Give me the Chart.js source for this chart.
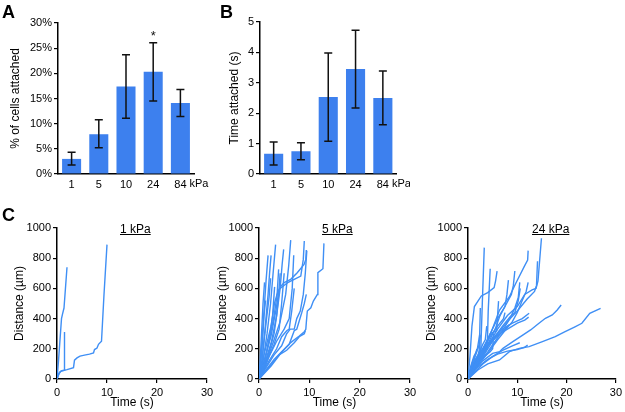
<!DOCTYPE html>
<html>
<head>
<meta charset="UTF-8">
<title>Cell attachment on substrates of different stiffness</title>
<style>
  body { margin:0; background:#fff; font-family:'Liberation Sans', Arial, sans-serif; }
  #fig { position:relative; width:625px; height:412px; overflow:hidden; }
  canvas { position:absolute; }
  .panel { position:absolute; font-weight:bold; font-size:18px; line-height:1; }
  .sub { position:absolute; font-size:12px; line-height:1; text-decoration:underline; }
</style>
</head>
<body>
<div id="fig">
  <canvas id="chartA" width="210" height="200" style="left:0;top:0"></canvas>
  <canvas id="chartB" width="200" height="200" style="left:210px;top:0"></canvas>
  <canvas id="chartC1" width="225" height="212" style="left:0;top:200px"></canvas>
  <canvas id="chartC2" width="225" height="212" style="left:210px;top:200px"></canvas>
  <canvas id="chartC3" width="215" height="212" style="left:410px;top:200px"></canvas>
  <div class="panel" style="left:2px;top:2.6px">A</div>
  <div class="panel" style="left:220px;top:2.6px">B</div>
  <div class="panel" style="left:2px;top:205.6px">C</div>
  <div class="sub" style="left:120px;top:223px">1 kPa</div>
  <div class="sub" style="left:322px;top:223px">5 kPa</div>
  <div class="sub" style="left:532px;top:223px">24 kPa</div>
</div>

<script src="https://cdn.jsdelivr.net/npm/chart.js"></script>
<script>
// --- data ---
const stiffness = ['1', '5', '10', '24', '84'];

// A: % of cells attached (mean, error bar low / high)
const attachedPct  = [3.0, 7.9, 17.4, 20.3, 14.1];
const attachedLow  = [1.8, 5.2, 11.1, 14.5, 11.4];
const attachedHigh = [4.3, 10.8, 23.7, 26.1, 16.8];
const attachedSig  = ['', '', '', '*', ''];

// B: time attached (s)
const timeAttached = [0.67, 0.75, 2.53, 3.45, 2.50];
const timeLow      = [0.30, 0.47, 1.08, 2.17, 1.62];
const timeHigh     = [1.05, 1.03, 3.98, 4.73, 3.39];

// C: tracks, [time (s), distance (um)]
const tracks1kPa = [
  [[0,0],[0.3,120],[0.6,260],[0.9,400],[1.1,430],[1.4,470],[1.6,560],[2.0,740]],
  [[0,0],[0.5,45],[1.0,55],[1.4,58],[1.5,311]],
  [[0,0],[0.4,35],[0.8,52],[2.0,62],[3.3,75],[3.5,125],[4.0,140],[4.6,152],[5.5,158],[6.5,165],[7.3,172],[7.5,195],[8.0,205],[8.3,230],[8.9,250],[9.4,560],[10.0,890]]
];

const tracks5kPa = [
  [[0,0],[0.4,150],[1.0,450],[1.4,650],[1.8,819]],
  [[0,0],[0.6,120],[1.2,330],[1.8,560],[2.1,700],[2.4,819]],
  [[0,0],[0.8,120],[1.6,300],[2.3,500],[2.8,700],[3.3,890]],
  [[0,0],[1.0,100],[2.0,250],[3.0,420],[3.6,560],[3.9,726]],
  [[0,0],[1.2,110],[2.5,250],[3.5,420],[4.2,600],[4.6,760],[4.9,858]],
  [[0,0],[1.5,120],[3.0,260],[4.2,380],[5.3,560],[5.9,750],[6.3,920]],
  [[0,0],[2.0,150],[3.5,250],[5.0,330],[6.0,400],[6.6,600],[6.9,819]],
  [[0,0],[1.1,174],[2.4,351],[3.1,505],[3.7,572],[4.4,616],[5.0,638],[6.3,660],[7.6,704],[8.95,759],[9.3,792],[9.4,854]],
  [[0,0],[1.1,130],[2.4,285],[3.4,461],[4.0,594],[5.7,638],[7.0,660],[8.3,682],[8.8,792],[9.0,914]],
  [[0,0],[2.4,86],[4.4,174],[6.3,241],[8.0,285],[9.0,313],[9.3,329],[9.4,373],[9.6,450],[10.3,472],[10.8,516],[11.6,560],[11.7,704],[12.7,730],[12.9,898]],
  [[0,0],[0.5,100],[1.0,250],[1.5,400],[2.0,540],[2.3,667]],
  [[0,0],[0.3,90],[0.7,250],[1.0,420],[1.3,520]],
  [[0,0],[1.0,90],[2.0,180],[3.0,300],[3.5,420],[3.9,560],[4.2,700]],
  [[0,0],[2.0,120],[3.5,200],[4.5,280],[5.5,320],[6.0,330],[6.5,450],[7.0,600]],
  [[0,0],[1.5,80],[3.0,160],[4.5,220],[5.5,300],[6.2,330],[7.0,330],[7.5,400],[8.2,450],[8.8,560],[9.2,700],[9.5,850]],
  [[0,0],[2.5,100],[4.0,160],[5.5,190],[7.0,240],[8.0,280],[9.0,300],[9.2,320]],
  [[0,0],[1.0,60],[2.0,150],[3.0,230],[4.0,330],[4.5,500],[5.0,700]],
  [[0,0],[0.5,50],[1.5,180],[2.2,300],[2.7,420],[3.1,610]],
  [[0,0],[0.2,100],[0.5,300],[0.8,500],[1.1,640]],
  [[0,0],[3.0,130],[4.5,180],[6.0,230],[7.0,320],[7.5,330],[8.5,440],[9.0,500],[9.4,560]]
];

const tracks24kPa = [
  [[0,0],[1.0,100],[2.0,160],[2.6,200],[2.9,500],[3.3,870]],
  [[0,0],[1.5,90],[3.0,150],[3.9,200],[4.1,450],[4.5,730]],
  [[0,0],[0.4,150],[0.8,350],[1.3,480],[2.7,550],[4.0,572],[5.3,605],[5.6,650],[5.9,715]],
  [[0,0],[1.0,70],[2.0,130],[2.3,200],[2.5,470]],
  [[0,0],[1.0,60],[2.5,150],[4.0,230],[5.5,330],[6.5,420],[7.5,480],[7.9,560],[8.2,655]],
  [[0,0],[1.5,100],[3.0,200],[4.5,300],[6.0,400],[7.5,480],[8.8,560],[9.2,620],[9.5,715]],
  [[0,0],[2.0,120],[4.0,250],[6.4,457],[8.4,545],[9.7,634],[11.4,744],[12.1,788],[12.2,850]],
  [[0,0],[2.0,110],[4.0,220],[6.0,330],[8.0,420],[10.0,480],[11.5,560],[13.0,590],[13.8,600],[14.2,650],[14.9,932]],
  [[0,0],[2.0,100],[4.0,200],[6.0,300],[8.0,380],[10.0,450],[12.0,530],[13.5,580],[13.9,620],[14.1,780]],
  [[0,0],[1.5,70],[3.0,120],[5.0,170],[6.4,181],[7.1,203],[9.1,247],[11.1,291],[12.7,325],[14.4,369],[15.7,402],[17.1,424],[18.1,457],[18.9,490]],
  [[0,0],[2.0,60],[4.0,100],[6.4,126],[8.4,181],[10.4,203],[12.4,214],[15.1,247],[17.7,280],[19.7,313],[21.7,346],[23.1,369],[24.7,435],[26.9,468]],
  [[0,0],[2.0,80],[4.0,130],[6.0,165],[8.0,185],[10.0,195],[11.5,210],[12.1,225]],
  [[0,0],[1.5,100],[3.0,190],[5.0,270],[7.0,330],[9.0,370],[11.0,400],[12.4,435]],
  [[0,0],[2.0,120],[4.0,220],[6.0,290],[8.0,330],[10.0,370],[11.5,390],[12.3,410]],
  [[0,0],[1.0,80],[2.0,150],[3.0,230],[3.5,260],[3.8,350]],
  [[0,0],[1.2,100],[2.5,180],[3.5,220],[4.5,300],[5.8,320],[6.2,516]],
  [[0,0],[1.5,110],[3.0,200],[4.5,280],[6.0,350],[7.2,400],[7.5,440]],
  [[0,0],[0.5,80],[1.2,150],[2.0,200],[2.3,230],[2.5,290]],
  [[0,0],[1.0,50],[2.5,120],[4.0,180],[5.5,250],[7.0,320],[8.5,400],[9.5,470],[10.2,540],[10.5,640]],
  [[0,0],[2.0,90],[4.0,170],[6.0,260],[8.0,340],[9.0,380],[10.0,440],[11.0,520],[11.8,580],[12.2,640]],
  [[0,0],[0.5,40],[1.5,90],[3.0,140],[4.5,180],[5.0,200],[5.2,300]],
  [[0,0],[1.0,120],[1.8,180],[2.2,260],[2.4,300]],
  [[0,0],[3.0,100],[5.0,150],[7.0,190],[9.0,220],[10.5,240]],
  [[0,0],[2.5,140],[4.5,240],[6.5,300],[7.8,340],[8.3,360]],
  [[0,0],[0.8,60],[1.5,160],[1.8,200]],
  [[0,0],[3.0,180],[5.0,260],[7.0,350],[8.5,410],[9.5,440],[10.2,520],[10.6,600]]
];

// --- styling ---
const ink = '#000';
const barBlue = '#3d80ee';
const lineBlue = '#3f8ff5';
const fontFamily = "'Liberation Sans', Arial, sans-serif";
const tickFont = { family: fontFamily, size: 11 };
const titleFont = { family: fontFamily, size: 12 };

// error bars, significance star and unit after last category
const errorBars = {
  id: 'errorBars',
  afterDatasetsDraw(chart, args, opts) {
    const { ctx, scales: { x, y } } = chart;
    ctx.save();
    ctx.strokeStyle = '#111';
    ctx.fillStyle = '#111';
    ctx.lineWidth = 1.5;
    opts.low.forEach((lo, i) => {
      const px = x.getPixelForValue(i);
      const y1 = y.getPixelForValue(lo);
      const y2 = y.getPixelForValue(opts.high[i]);
      ctx.beginPath();
      ctx.moveTo(px, y1); ctx.lineTo(px, y2);
      ctx.moveTo(px - 4, y1); ctx.lineTo(px + 4, y1);
      ctx.moveTo(px - 4, y2); ctx.lineTo(px + 4, y2);
      ctx.stroke();
      if (opts.marks && opts.marks[i]) {
        ctx.font = '13px ' + fontFamily;
        ctx.textAlign = 'center';
        ctx.textBaseline = 'top';
        ctx.fillText(opts.marks[i], px, y2 - 13);
      }
    });
    if (opts.unit) {
      const last = chart.data.labels.length - 1;
      ctx.font = tickFont.size + 'px ' + fontFamily;
      ctx.fillStyle = ink;
      const w = ctx.measureText(chart.data.labels[last]).width;
      ctx.textAlign = 'left';
      ctx.textBaseline = 'top';
      ctx.fillText(opts.unit, x.getPixelForValue(last) + w / 2 + 3, x.top + 4);
    }
    ctx.restore();
  }
};

function barChart(id, values, low, high, marks, yMax, yFmt, yTitle, geo) {
  return new Chart(document.getElementById(id), {
    type: 'bar',
    data: {
      labels: stiffness,
      datasets: [{ data: values, backgroundColor: barBlue, barPercentage: 0.7, categoryPercentage: 1 }]
    },
    plugins: [errorBars],
    options: {
      responsive: false,
      animation: false,
      layout: { padding: geo.pad },
      plugins: {
        legend: { display: false },
        tooltip: { enabled: false },
        errorBars: { low: low, high: high, marks: marks, unit: 'kPa' }
      },
      scales: {
        x: {
          grid: { display: false, drawTicks: false, tickLength: 0 },
          border: { color: ink, width: 1.5 },
          ticks: { color: ink, font: tickFont, padding: 4 },
          afterFit: s => { s.height = geo.xh; }
        },
        y: {
          min: 0, max: yMax,
          ticks: { stepSize: yMax / (geo.steps), color: ink, font: tickFont, padding: 2, callback: yFmt },
          grid: { drawOnChartArea: false, tickLength: 4, color: ink, lineWidth: 1.2 },
          border: { color: ink, width: 1.5 },
          title: { display: true, text: yTitle, color: ink, font: titleFont, padding: 0 },
          afterFit: s => { s.width = geo.yw; }
        }
      }
    }
  });
}

function trackChart(id, tracks, geo) {
  return new Chart(document.getElementById(id), {
    type: 'line',
    data: {
      datasets: tracks.map(t => ({
        data: t, borderColor: lineBlue, borderWidth: 1.4, pointRadius: 0, fill: false, tension: 0
      }))
    },
    options: {
      responsive: false,
      animation: false,
      layout: { padding: geo.pad },
      plugins: { legend: { display: false }, tooltip: { enabled: false } },
      scales: {
        x: {
          type: 'linear', min: 0, max: 30,
          ticks: { stepSize: 10, color: ink, font: tickFont, padding: 3, callback: v => String(v) },
          grid: { drawOnChartArea: false, tickLength: 4, color: ink, lineWidth: 1.2 },
          border: { color: ink, width: 1.5 },
          title: { display: true, text: 'Time (s)', color: ink, font: titleFont, padding: { top: 0, bottom: 2 } },
          afterFit: s => { s.height = geo.xh; }
        },
        y: {
          min: 0, max: 1000,
          ticks: { stepSize: 200, color: ink, font: tickFont, padding: 2, callback: v => String(v) },
          grid: { drawOnChartArea: false, tickLength: 4, color: ink, lineWidth: 1.2 },
          border: { color: ink, width: 1.5 },
          title: { display: true, text: 'Distance (µm)', color: ink, font: titleFont, padding: 0 },
          afterFit: s => { s.width = geo.yw; }
        }
      }
    }
  });
}

barChart('chartA', attachedPct, attachedLow, attachedHigh, attachedSig, 30, v => v + '%', '% of cells attached',
  { pad: { left: 8.8, top: 23, right: 16, bottom: 0 }, yw: 49.2, xh: 26, steps: 6 });
barChart('chartB', timeAttached, timeLow, timeHigh, null, 5, v => v, 'Time attached (s)',
  { pad: { left: 17.8, top: 22, right: 13.5, bottom: 0 }, yw: 32.2, xh: 26, steps: 5 });

trackChart('chartC1', tracks1kPa, { pad: { left: 12.8, top: 28, right: 18, bottom: 0 }, yw: 44.2, xh: 33 });
trackChart('chartC2', tracks5kPa, { pad: { left: 5.8, top: 28, right: 25, bottom: 0 }, yw: 43.2, xh: 33 });
trackChart('chartC3', tracks24kPa, { pad: { left: 14.8, top: 28, right: 7, bottom: 0 }, yw: 43.2, xh: 33 });
</script>
</body>
</html>
